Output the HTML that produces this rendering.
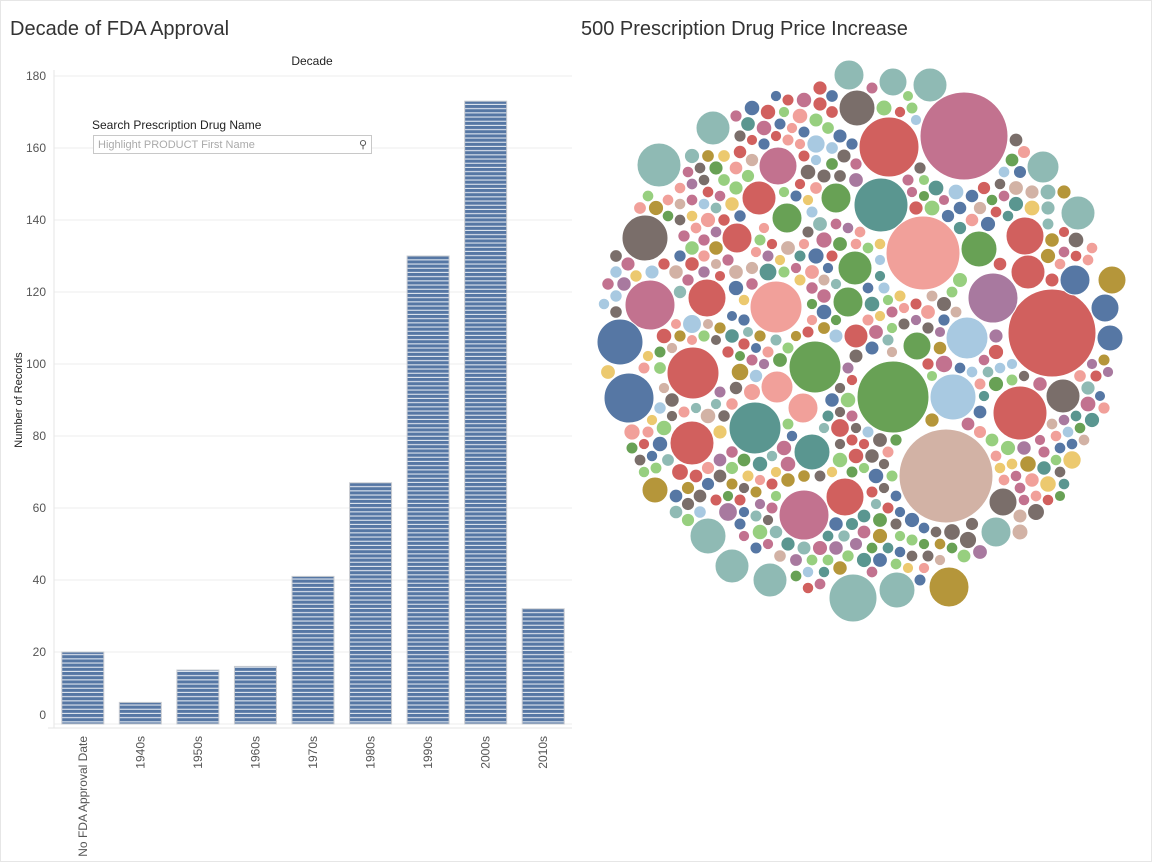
<!DOCTYPE html>
<html><head><meta charset="utf-8">
<style>
body{margin:0;width:1152px;height:862px;background:#fff;font-family:"Liberation Sans",sans-serif;overflow:hidden;position:relative}
.title{position:absolute;top:18px;font-size:20px;color:#333}
</style></head>
<body>
<div style="position:absolute;left:0;top:0;width:1150px;height:860px;border:1px solid #e6e6e6"></div>
<div class="title" style="left:10px">Decade of FDA Approval</div>
<div class="title" style="left:581px">500 Prescription Drug Price Increase</div>
<svg id="bar" width="580" height="862" style="position:absolute;left:0;top:0">
<defs><pattern id="stripe" width="6" height="4.2" patternUnits="userSpaceOnUse"><rect width="6" height="4.2" fill="#5677a4"/><rect y="3.1" width="6" height="1.1" fill="#dfe6ef"/></pattern></defs>
</svg>
<div style="position:absolute;left:92px;top:118px;font-size:12px;color:#222">Search Prescription Drug Name</div>
<div style="position:absolute;left:93px;top:135px;width:279px;height:19px;border:1px solid #c8c8c8;background:#fff;font-size:11px;color:#aaa;line-height:19px;box-sizing:border-box;padding-left:4px">Highlight PRODUCT First Name<span style="position:absolute;right:4px;top:0;color:#555;font-size:11px">⚲</span></div>
<svg id="bub" width="1152" height="862" style="position:absolute;left:0;top:0;pointer-events:none"></svg>
<script>
const categories=["No FDA Approval Date","1940s","1950s","1960s","1970s","1980s","1990s","2000s","2010s"];
const counts=[20,6,15,16,41,67,130,173,32];
const yTicks=[0,20,40,60,80,100,120,140,160,180];
const NS="http://www.w3.org/2000/svg";
function mk(p,t,a){const e=document.createElementNS(NS,t);for(const k in a)e.setAttribute(k,a[k]);p.appendChild(e);return e;}
const bar=document.getElementById('bar');
const x0=54,x1=572,y0=724,pxPer=3.6;
const band=(x1-x0)/categories.length;
const yS=v=>y0-v*pxPer;
yTicks.forEach(t=>{
  const g=mk(bar,'line',{x1:x0,x2:x1,y1:yS(t),y2:yS(t),stroke:'#ececec'});
  
  
  const tx=mk(bar,'text',{x:46,y:(t===0?yS(t)-5:yS(t)+4),'text-anchor':'end','font-size':12,fill:'#555'});
  tx.textContent=t;
  
  
});
mk(bar,'line',{x1:x0,x2:x0,y1:70,y2:728,stroke:'#e6e6e6'});
mk(bar,'line',{x1:48,x2:x1,y1:728,y2:728,stroke:'#e6e6e6'});
const yt=mk(bar,'text',{x:22,y:400,transform:'rotate(-90 22 400)','text-anchor':'middle','font-size':11,fill:'#222'});
yt.textContent='Number of Records';


const hd=mk(bar,'text',{x:312,y:65,'text-anchor':'middle','font-size':12,fill:'#222'});
hd.textContent='Decade';


categories.forEach((c,i)=>{
  const cx=x0+band*(i+0.5);
  const r=mk(bar,'rect',{x:cx-21,y:yS(counts[i]),width:42,height:counts[i]*pxPer,fill:'url(#stripe)',stroke:'#c9ccd1','stroke-width':1});
  
  
  const t=mk(bar,'text',{x:cx+4,y:736,transform:`rotate(-90 ${cx+4} 736)`,'text-anchor':'end','font-size':12,fill:'#555'});
  t.textContent=c;
  
  
});

// Bubble chart
const palette={pk:'#c2728f',rd:'#d1605e',tl:'#5a9690',sa:'#f1a09a',mv:'#a8799f',gn:'#68a155',bg:'#d2b2a5',lb:'#a8c9e1',lt:'#8fbab4',bl:'#5677a4',gy:'#7a6e6a',go:'#b5963a',yl:'#ecc96f',lg:'#97cf7f'};
const bubbleSizes=[44,30,27,37,44,25,36,47,23,21,27,26,26,26,26,22,25,23,25,23,25,19,24,22,17,15,17,14,17,18,17,18,17,20,14,13,18,17,14,17,15,19,19,17,17,15,15,15,18,19,18,14,13,15,15,16,16,15,14];
const bubbleColors=['pk','rd','tl','sa','rd','mv','gn','bg','lb','lb','rd','sa','gn','rd','tl','rd','pk','bl','bl','gy','pk','rd','lt','lt','lt','lt','lt','lt','lt','lt','lt','lt','lt','go','go','go','gy','gy','gy','rd','rd','rd','rd','rd','gn','gn','gn','gn','gn','pk','tl','bl','bl','bl','sa','sa','lt','lt','gn'];
const layout=[[964,136],[889,147],[881,205],[923,253],[1052,333],[993,298],[893,397],[946,476],[953,397],[967,338],[1020,413],[776,307],[815,367],[693,373],[755,428],[692,443],[650,305],[620,342],[629,398],[645,238],[804,515],[845,497],[853,598],[659,165],[1078,213],[849,75],[930,85],[893,82],[713,128],[708,536],[770,580],[897,590],[732,566],[949,587],[1112,280],[655,490],[857,108],[1063,396],[1003,502],[759,198],[737,238],[707,298],[1025,236],[1028,272],[855,268],[848,302],[836,198],[787,218],[979,249],[778,166],[812,452],[1105,308],[1110,338],[1075,280],[803,408],[777,387],[1043,167],[996,532],[917,346]];
const fillerColors=['rd','bl','gy','pk','sa','lb','gn','lt','yl','mv','go','lg','tl','bg','rd','bl','pk','gy','lg','sa'];
const bub=document.getElementById('bub');
const circles=[];
function drawC(x,y,r,col,name){
  const c=mk(bub,'circle',{cx:x,cy:y,r:r,fill:palette[col],stroke:'#fff','stroke-width':1});
  
  
  circles.push([x,y,r]);
}
bubbleSizes.forEach((s,i)=>drawC(layout[i][0],layout[i][1],s,bubbleColors[i],'drug-bubble'));
const CX=858,CY=338,R=262;const pts=[];
for(let y=CY-R;y<=CY+R;y+=4)for(let x=CX-R;x<=CX+R;x+=4){const d=Math.hypot(x-CX,y-CY);if(d<R)pts.push([x,y,d]);}
pts.sort((a,b)=>a[2]-b[2]);
let k=0;
pts.forEach(p=>{
  let m=Infinity;for(const c of circles){const d=Math.hypot(p[0]-c[0],p[1]-c[1])-c[2];if(d<m)m=d;}
  m=Math.min(m-1,12,R-p[2]);
  if(m>=5.5){drawC(p[0],p[1],m,fillerColors[k%fillerColors.length],'small-drug-bubble');k++;}
});
</script>
</body></html>
